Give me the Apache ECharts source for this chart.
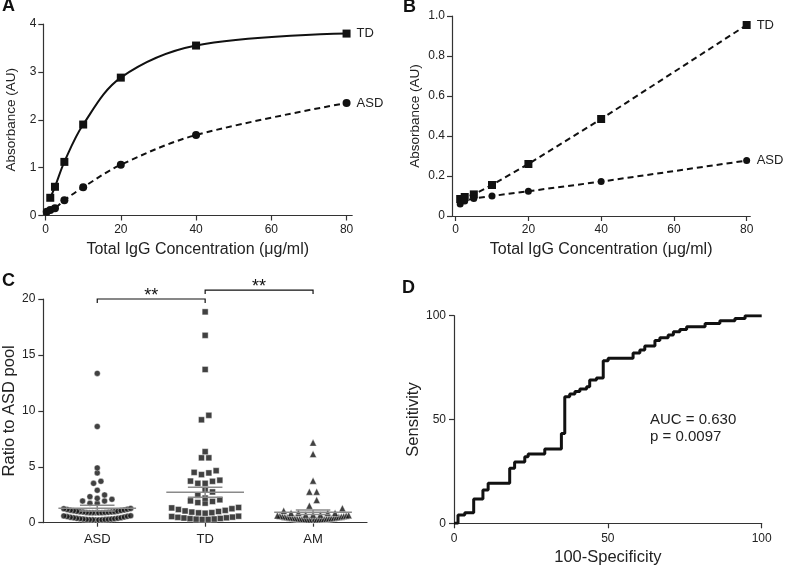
<!DOCTYPE html>
<html><head><meta charset="utf-8">
<script src="https://cdn.jsdelivr.net/npm/echarts@6/dist/echarts.min.js"></script>
<style>html,body{margin:0;padding:0;background:#fff}#c{width:787px;height:570px}</style>
</head><body><div id="c"></div>
<script>
// ---------- Panel A ----------
const concA_TD  = [1.25, 2.5, 5, 10, 20, 40, 80];
const absA_TD   = [0.37, 0.6, 1.12, 1.9, 2.88, 3.55, 3.8];
const concA_ASD = [0.3125, 1.25, 2.5, 5, 10, 20, 40, 80];
const absA_ASD  = [0.08, 0.115, 0.15, 0.32, 0.59, 1.06, 1.68, 2.35];
// ---------- Panel B ----------
const concB     = [1.25, 2.5, 5, 10, 20, 40, 80];
const absB_TD   = [0.085, 0.095, 0.108, 0.155, 0.26, 0.485, 0.955];
const absB_ASD  = [0.06, 0.075, 0.088, 0.1, 0.124, 0.172, 0.277];
const concTicks = [0, 20, 40, 60, 80];
// ---------- Panel C ----------
const groupsC  = ['ASD', 'TD', 'AM'];
const ratioASD = [13.35, 8.6, 4.9, 4.45, 3.7, 3.52, 2.9, 2.48, 2.33, 2.18, 2.09, 1.94, 1.94, 1.73, 1.73,
  0.88, 0.88, 0.89, 0.89, 0.90, 0.91, 0.92, 0.93, 0.95, 0.96, 0.98, 0.99, 1.02, 1.03, 1.07, 1.08, 1.12, 1.14, 1.18, 1.20, 1.25, 1.27,
  0.25, 0.25, 0.26, 0.26, 0.27, 0.28, 0.29, 0.30, 0.32, 0.33, 0.35, 0.36, 0.39, 0.40, 0.44, 0.45, 0.49, 0.51, 0.55, 0.57, 0.61, 0.62];
const ratioTD  = [18.85, 16.75, 13.7, 9.6, 9.2, 6.35, 5.8, 5.8, 4.65, 4.5, 4.45, 4.3, 3.8, 3.72, 3.7, 3.52, 3.52,
  2.95, 2.75, 2.45, 2.2, 2.05, 1.95, 1.9, 1.8, 1.75,
  0.85, 0.88, 0.9, 0.95, 1.0, 1.05, 1.1, 1.18, 1.25, 1.32, 1.36,
  0.3, 0.3, 0.32, 0.33, 0.36, 0.38, 0.42, 0.44, 0.48, 0.5, 0.55, 0.58];
const ratioAM  = [7.16, 6.14, 3.76, 2.77, 2.77, 2.03, 1.52, 1.29, 1.07, 0.87, 0.87, 0.87, 0.87, 0.72, 0.72, 0.72,
  0.28, 0.28, 0.29, 0.29, 0.29, 0.30, 0.30, 0.31, 0.32, 0.33, 0.34, 0.35, 0.36, 0.37, 0.39, 0.40, 0.42, 0.43, 0.45, 0.46,
  0.48, 0.50, 0.52, 0.54, 0.56, 0.58, 0.60, 0.62, 0.64, 0.66];
const meanC = [1.3, 2.72, 0.93];
const semC  = [0.25, 0.45, 0.2];
const sigPairs  = [[0, 1], [1, 2]];
const sigLevels = [20, 20.8];
const sigLabels = ['**', '**'];
// ---------- Panel D ----------
const rocFPR = [0, 1.3, 3.5, 6.4, 9.4, 11.1, 18.1, 19.7, 23, 24.1, 29.5, 34.9, 36, 37.6, 39.3, 40.9, 43.1, 44.1, 46.3, 48.5, 50.1, 58.2, 60.4, 62, 65.3, 66.9, 69.6, 71.3, 73.4, 75.6, 81.6, 86.4, 91.3, 94.6, 100];
const rocTPR = [0, 4, 5.1, 11.7, 16, 19.3, 26.5, 29.5, 32, 33.4, 35.8, 43.3, 61, 62.3, 63.5, 64.7, 65.8, 69, 70, 78.3, 79.5, 82, 83.5, 85.4, 88, 89.4, 90.7, 92.3, 93.4, 94.7, 96.3, 97.6, 98.7, 100, 100];
const aucLines = ['AUC = 0.630', 'p = 0.0097'];

// ---------- helpers ----------
const FONT = 'Liberation Sans, Arial, Helvetica, sans-serif';
const INK = '#111';
const TXT = '#222';
const zip = (xs, ys) => xs.map((x, i) => [x, ys[i]]);

// GraphPad-like binned dot layout: values in a bin spread sideways, low values near the centre
function swarm(values, center, binH, step, maxHalf) {
  const bins = {};
  values.forEach(v => { const b = Math.floor(v / binH); (bins[b] = bins[b] || []).push(v); });
  const out = [];
  Object.keys(bins).forEach(k => {
    const arr = bins[k].slice().sort((a, b) => a - b);
    const n = arr.length;
    let d = step;
    if (n > 1 && (n - 1) * d / 2 > maxHalf) d = 2 * maxHalf / (n - 1);
    const offs = [];
    for (let i = 0; i < n; i++) offs.push((i - (n - 1) / 2) * d);
    offs.sort((a, b) => (Math.abs(a) - Math.abs(b)) || (a - b));
    arr.forEach((v, i) => out.push([center + offs[i], v]));
  });
  return out;
}

function axisBase(extra) {
  return Object.assign({
    axisLine: { show: true, onZero: false, lineStyle: { color: '#333', width: 1.2 } },
    axisTick: { show: true, length: 5, lineStyle: { color: '#333', width: 1.2 } },
    axisLabel: { color: TXT, fontSize: 12, fontFamily: FONT },
    splitLine: { show: false },
    nameTextStyle: { color: TXT, fontFamily: FONT }
  }, extra);
}

const chart = echarts.init(document.getElementById('c'), null, { renderer: 'canvas' });

const option = {
  animation: false,
  backgroundColor: '#fff',
  textStyle: { fontFamily: FONT },
  grid: [
    { left: 43.3, top: 24, width: 308.9, height: 191.5, containLabel: false, outerBoundsMode: 'none' },
    { left: 452, top: 16, width: 298.3, height: 200, containLabel: false, outerBoundsMode: 'none' },
    { left: 43.3, top: 299, width: 323.7, height: 223.7, containLabel: false, outerBoundsMode: 'none' },
    { left: 454, top: 315.7, width: 307.7, height: 207.6, containLabel: false, outerBoundsMode: 'none' }
  ],
  xAxis: [
    axisBase({ gridIndex: 0, type: 'value', min: -0.6, max: 81.5,
      axisTick: { show: true, length: 5, customValues: concTicks, lineStyle: { color: '#333', width: 1.2 } },
      axisLabel: { color: TXT, fontSize: 12, customValues: concTicks },
      name: 'Total IgG Concentration (\u03bcg/ml)', nameLocation: 'middle', nameGap: 26,
      nameTextStyle: { fontSize: 16, color: TXT } }),
    axisBase({ gridIndex: 1, type: 'value', min: -1, max: 81,
      axisTick: { show: true, length: 5, customValues: concTicks, lineStyle: { color: '#333', width: 1.2 } },
      axisLabel: { color: TXT, fontSize: 12, customValues: concTicks },
      name: 'Total IgG Concentration (\u03bcg/ml)', nameLocation: 'middle', nameGap: 26,
      nameTextStyle: { fontSize: 16, color: TXT } }),
    axisBase({ gridIndex: 2, type: 'category', data: groupsC, boundaryGap: true,
      axisTick: { show: true, alignWithLabel: true, length: 4, lineStyle: { color: '#333', width: 1.2 } },
      axisLabel: { color: TXT, fontSize: 13, margin: 10 } }),
    { gridIndex: 2, type: 'value', min: -0.5, max: 2.5, show: false, axisLine: { onZero: false } },
    axisBase({ gridIndex: 3, type: 'value', min: 0, max: 100, interval: 50,
      axisLabel: { color: TXT, fontSize: 12, margin: 9 },
      name: '100-Specificity', nameLocation: 'middle', nameGap: 26,
      nameTextStyle: { fontSize: 16.5, color: TXT } })
  ],
  yAxis: [
    axisBase({ gridIndex: 0, type: 'value', min: 0, max: 4, interval: 1,
      axisLabel: { color: TXT, fontSize: 12, margin: 7 },
      name: 'Absorbance (AU)', nameLocation: 'middle', nameGap: 25,
      nameTextStyle: { fontSize: 13.5, color: TXT } }),
    axisBase({ gridIndex: 1, type: 'value', min: 0, max: 1, interval: 0.2,
      axisLabel: { color: TXT, fontSize: 12, margin: 7, formatter: v => v === 0 ? '0' : v.toFixed(1) },
      name: 'Absorbance (AU)', nameLocation: 'middle', nameGap: 30,
      nameTextStyle: { fontSize: 13.5, color: TXT } }),
    axisBase({ gridIndex: 2, type: 'value', min: 0, max: 20, interval: 5,
      axisLabel: { color: TXT, fontSize: 12, margin: 8 },
      name: 'Ratio to ASD pool', nameLocation: 'middle', nameGap: 25,
      nameTextStyle: { fontSize: 16.5, color: TXT } }),
    axisBase({ gridIndex: 3, type: 'value', min: 0, max: 100, interval: 50,
      axisLabel: { color: TXT, fontSize: 12, margin: 8 },
      name: 'Sensitivity', nameLocation: 'middle', nameGap: 32,
      nameTextStyle: { fontSize: 16.5, color: TXT } })
  ],
  series: [
    // Panel A
    { name: 'TD', type: 'line', xAxisIndex: 0, yAxisIndex: 0, data: zip(concA_TD, absA_TD),
      smooth: 0.35, symbol: 'rect', symbolSize: 8,
      itemStyle: { color: INK }, lineStyle: { color: INK, width: 2 },
      endLabel: { show: true, formatter: '{a}', distance: 10, color: TXT, fontSize: 13 } },
    { name: 'ASD', type: 'line', xAxisIndex: 0, yAxisIndex: 0, data: zip(concA_ASD, absA_ASD),
      smooth: 0.35, symbol: 'circle', symbolSize: 8,
      itemStyle: { color: INK }, lineStyle: { color: INK, width: 2, type: [6, 4] },
      endLabel: { show: true, formatter: '{a}', distance: 10, color: TXT, fontSize: 13 } },
    // Panel B
    { name: 'TD', type: 'line', xAxisIndex: 1, yAxisIndex: 1, data: zip(concB, absB_TD),
      symbol: 'rect', symbolSize: 8,
      itemStyle: { color: INK }, lineStyle: { color: INK, width: 2, type: [6, 4] },
      endLabel: { show: true, formatter: '{a}', distance: 10, color: TXT, fontSize: 13 } },
    { name: 'ASD', type: 'line', xAxisIndex: 1, yAxisIndex: 1, data: zip(concB, absB_ASD),
      symbol: 'circle', symbolSize: 7,
      itemStyle: { color: INK }, lineStyle: { color: INK, width: 2, type: [6, 4] },
      endLabel: { show: true, formatter: '{a}', distance: 10, color: TXT, fontSize: 13 } },
    // Panel C scatter
    { name: 'ASD', type: 'scatter', xAxisIndex: 3, yAxisIndex: 2, data: swarm(ratioASD, 0, 0.7, 0.068, 0.31),
      symbol: 'circle', symbolSize: 6, itemStyle: { color: INK, borderColor: '#fff', borderWidth: 0.5 } },
    { name: 'TD', type: 'scatter', xAxisIndex: 3, yAxisIndex: 2, data: swarm(ratioTD, 1, 0.7, 0.068, 0.31),
      symbol: 'rect', symbolSize: 6, itemStyle: { color: INK, borderColor: '#fff', borderWidth: 0.5 } },
    { name: 'AM', type: 'scatter', xAxisIndex: 3, yAxisIndex: 2, data: swarm(ratioAM, 2, 0.7, 0.068, 0.33),
      symbol: 'triangle', symbolSize: 7, itemStyle: { color: INK, borderColor: '#fff', borderWidth: 0.5 } },
    // Panel C mean +/- SEM
    { type: 'custom', xAxisIndex: 3, yAxisIndex: 2, z: 5, silent: true,
      data: groupsC.map((g, i) => [i, meanC[i]]),
      renderItem: function (params, api) {
        const i = params.dataIndex, m = meanC[i], s = semC[i];
        const L = api.coord([i - 0.36, m]), R = api.coord([i + 0.36, m]);
        const T = api.coord([i, m + s]), B = api.coord([i, m - s]);
        const cw = api.size([0.16, 0])[0];
        const st = { stroke: '#8a8a8a', lineWidth: 1.5 };
        return { type: 'group', children: [
          { type: 'line', shape: { x1: L[0], y1: L[1], x2: R[0], y2: R[1] }, style: st },
          { type: 'line', shape: { x1: T[0], y1: T[1], x2: B[0], y2: B[1] }, style: st },
          { type: 'line', shape: { x1: T[0] - cw, y1: T[1], x2: T[0] + cw, y2: T[1] }, style: st },
          { type: 'line', shape: { x1: B[0] - cw, y1: B[1], x2: B[0] + cw, y2: B[1] }, style: st }
        ] };
      } },
    // Panel C significance brackets
    { type: 'custom', xAxisIndex: 3, yAxisIndex: 2, clip: false, silent: true, z: 6,
      data: sigPairs.map((p, k) => [(p[0] + p[1]) / 2, 10]),
      renderItem: function (params, api) {
        const k = params.dataIndex;
        const a = api.coord([sigPairs[k][0], sigLevels[k]]);
        const b = api.coord([sigPairs[k][1], sigLevels[k]]);
        return { type: 'group', children: [
          { type: 'polyline', shape: { points: [[a[0], a[1] + 4], [a[0], a[1]], [b[0], b[1]], [b[0], b[1] + 4]] },
            style: { stroke: INK, lineWidth: 1.2, fill: null } },
          { type: 'text', x: (a[0] + b[0]) / 2, y: a[1] - 3,
            style: { text: sigLabels[k], fill: INK, font: '18px ' + FONT, align: 'center', verticalAlign: 'middle' } }
        ] };
      } },
    // Panel D ROC
    { name: 'ROC', type: 'line', xAxisIndex: 4, yAxisIndex: 3, data: zip(rocFPR, rocTPR),
      step: 'end', symbol: 'none', lineStyle: { color: INK, width: 3 } }
  ],
  graphic: [
    { type: 'text', left: 2, top: -3, style: { text: 'A', font: 'bold 18px ' + FONT, fill: INK } },
    { type: 'text', left: 403, top: -2, style: { text: 'B', font: 'bold 18px ' + FONT, fill: INK } },
    { type: 'text', left: 2, top: 272, style: { text: 'C', font: 'bold 18px ' + FONT, fill: INK } },
    { type: 'text', left: 402, top: 279, style: { text: 'D', font: 'bold 18px ' + FONT, fill: INK } },
    { type: 'text', left: 650, top: 411, style: { text: aucLines.join('\n'), font: '15px ' + FONT, fill: TXT, lineHeight: 17 } }
  ]
};
chart.setOption(option);
</script>
</body></html>
